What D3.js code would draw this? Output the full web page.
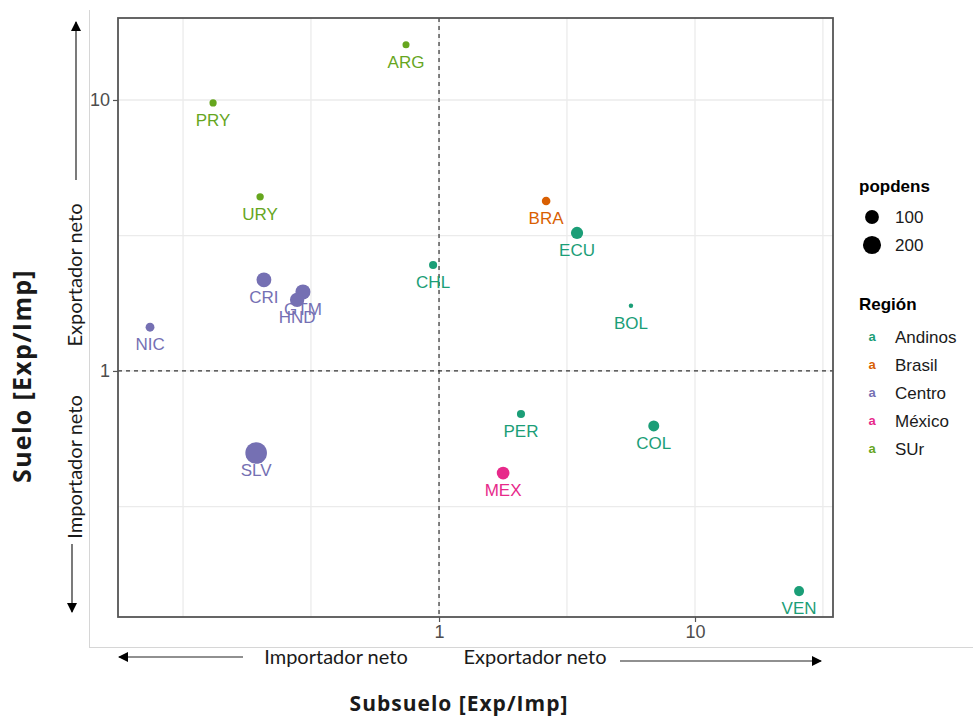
<!DOCTYPE html>
<html>
<head>
<meta charset="utf-8">
<script src="https://cdn.jsdelivr.net/npm/d3@7"></script>
<style>
  html, body { margin: 0; padding: 0; background: #fff; }
  svg { display: block; }
</style>
</head>
<body>
<svg id="chart" width="973" height="716"></svg>
<script>
// Trade balance ratios (exports / imports) by country
const countries = ["ARG", "PRY", "URY", "BRA", "ECU", "CHL", "CRI", "GTM", "HND", "NIC", "BOL", "PER", "COL", "MEX", "SLV", "VEN"];
const region    = ["SUr", "SUr", "SUr", "Brasil", "Andinos", "Andinos", "Centro", "Centro", "Centro", "Centro", "Andinos", "Andinos", "Andinos", "México", "Centro", "Andinos"];
const subsuelo  = [0.743, 0.131, 0.200, 2.62, 3.46, 0.948, 0.207, 0.294, 0.279, 0.0743, 5.62, 2.09, 6.90, 1.78, 0.193, 25.5];
const suelo     = [16.0, 9.75, 4.39, 4.24, 3.23, 2.46, 2.17, 1.957, 1.83, 1.45, 1.74, 0.694, 0.627, 0.42, 0.498, 0.154];
const popdens   = [17, 18, 19, 28, 72, 24, 120, 125, 110, 30, 10, 24, 54, 80, 310, 42];

const regions = ["Andinos", "Brasil", "Centro", "México", "SUr"];
const regionColors = ["#1B9E77", "#D95F02", "#7570B3", "#E7298A", "#66A61E"];
const xBreaks = [1, 10];
const yBreaks = [1, 10];
const xGrid = [0.1, 0.316, 1, 3.16, 10, 31.6];
const yGrid = [0.316, 1, 3.16, 10];
const sizeBreaks = [100, 200];

const svg = d3.select("#chart");
const panel = { left: 118, right: 833, top: 18, bottom: 617 };

const x = d3.scaleLog().domain([0.0557, 34.6]).range([panel.left, panel.right]);
const y = d3.scaleLog().domain([0.1236, 20.07]).range([panel.bottom, panel.top]);
const color = d3.scaleOrdinal().domain(regions).range(regionColors);
const pdMin = d3.min(popdens), pdMax = d3.max(popdens);
const sizeLin = d3.scaleLinear().domain([0, 1]).range([2.2, 10.8]);
const radius = v => sizeLin(Math.sqrt(Math.max(0, v - pdMin) / (pdMax - pdMin)));

const data = countries.map((c, i) => ({
  name: c, region: region[i], x: subsuelo[i], y: suelo[i], pd: popdens[i]
}));

// outer frame edges
svg.append("line").attr("x1", 89.5).attr("x2", 89.5).attr("y1", 10).attr("y2", 647.5)
  .attr("stroke", "#d6d6d6").attr("stroke-width", 1);
svg.append("line").attr("x1", 89).attr("x2", 973).attr("y1", 647.5).attr("y2", 647.5)
  .attr("stroke", "#d6d6d6").attr("stroke-width", 1);

// grid
const grid = svg.append("g");
grid.selectAll(".gx").data(xGrid.filter(v => x(v) > panel.left && x(v) < panel.right)).join("line")
  .attr("x1", d => x(d)).attr("x2", d => x(d))
  .attr("y1", panel.top).attr("y2", panel.bottom)
  .attr("stroke", "#ebebeb").attr("stroke-width", 1.3);
grid.selectAll(".gy").data(yGrid).join("line")
  .attr("y1", d => y(d)).attr("y2", d => y(d))
  .attr("x1", panel.left).attr("x2", panel.right)
  .attr("stroke", "#ebebeb").attr("stroke-width", 1.3);

// reference lines at ratio = 1
svg.append("line").attr("x1", x(1)).attr("x2", x(1)).attr("y1", panel.top).attr("y2", panel.bottom)
  .attr("stroke", "#333").attr("stroke-width", 1.2).attr("stroke-dasharray", "4,4");
svg.append("line").attr("y1", y(1)).attr("y2", y(1)).attr("x1", panel.left).attr("x2", panel.right)
  .attr("stroke", "#333").attr("stroke-width", 1.2).attr("stroke-dasharray", "4,4");

// axes
const xAxis = d3.axisBottom(x).tickValues(xBreaks).tickFormat(d3.format("d")).tickSize(5).tickPadding(3);
const yAxis = d3.axisLeft(y).tickValues(yBreaks).tickFormat(d3.format("d")).tickSize(5).tickPadding(3);
const gx = svg.append("g").attr("transform", `translate(0,${panel.bottom})`).call(xAxis);
const gy = svg.append("g").attr("transform", `translate(${panel.left},0)`).call(yAxis);
[gx, gy].forEach(g => {
  g.select(".domain").remove();
  g.selectAll(".tick line").attr("stroke", "#555").attr("stroke-width", 1.2);
  g.selectAll(".tick text").attr("fill", "#4d4d4d")
    .style("font-family", "'Liberation Sans', Arial, sans-serif").style("font-size", "18px");
});

// points and labels
const pts = svg.append("g");
pts.selectAll("circle").data(data).join("circle")
  .attr("cx", d => x(d.x)).attr("cy", d => y(d.y))
  .attr("r", d => radius(d.pd))
  .attr("fill", d => color(d.region));
pts.selectAll("text").data(data).join("text")
  .attr("x", d => x(d.x)).attr("y", d => y(d.y) + 23)
  .attr("text-anchor", "middle")
  .attr("fill", d => color(d.region))
  .style("font-family", "'Liberation Sans', Arial, sans-serif").style("font-size", "17px")
  .text(d => d.name);

// panel border
svg.append("rect").attr("x", panel.left).attr("y", panel.top)
  .attr("width", panel.right - panel.left).attr("height", panel.bottom - panel.top)
  .attr("fill", "none").attr("stroke", "#555").attr("stroke-width", 1.8);

// legends
const leg = svg.append("g").style("font-family", "'Liberation Sans', Arial, sans-serif");
leg.append("text").attr("x", 859).attr("y", 192).style("font-size", "17px").style("font-weight", "bold").text("popdens");
sizeBreaks.forEach((v, i) => {
  const cy = 217 + i * 28;
  leg.append("circle").attr("cx", 872).attr("cy", cy).attr("r", radius(v)).attr("fill", "#000");
  leg.append("text").attr("x", 895).attr("y", cy + 6).style("font-size", "17px").attr("fill", "#1a1a1a").text(v);
});
leg.append("text").attr("x", 859).attr("y", 310).style("font-size", "17px").style("font-weight", "bold").text("Región");
regions.forEach((r, i) => {
  const cy = 337 + i * 28;
  leg.append("text").attr("x", 872).attr("y", cy + 4).attr("text-anchor", "middle")
    .style("font-size", "13px").style("font-weight", "bold").attr("fill", color(r)).text("a");
  leg.append("text").attr("x", 895).attr("y", cy + 6).style("font-size", "17px").attr("fill", "#1a1a1a").text(r);
});

// arrows
const defs = svg.append("defs");
defs.append("marker").attr("id", "arr").attr("viewBox", "0 0 10 10").attr("refX", 9).attr("refY", 5)
  .attr("markerWidth", 10).attr("markerHeight", 10).attr("markerUnits", "userSpaceOnUse").attr("orient", "auto")
  .append("path").attr("d", "M0,0 L10,5 L0,10 Z").attr("fill", "#000");
const arrows = [
  [243, 657, 119, 657],
  [620, 661, 821, 661],
  [76, 180, 76, 22],
  [72, 544, 72, 612]
];
svg.selectAll(".arrow").data(arrows).join("line")
  .attr("x1", d => d[0]).attr("y1", d => d[1]).attr("x2", d => d[2]).attr("y2", d => d[3])
  .attr("stroke", "#222").attr("stroke-width", 1.2).attr("marker-end", "url(#arr)");

// side annotations
const ann = svg.append("g").style("font-family", "Lato, 'Open Sans', sans-serif").attr("fill", "#1a1a1a");
ann.append("text").attr("x", 336).attr("y", 664).attr("text-anchor", "middle").style("font-size", "20px").text("Importador neto");
ann.append("text").attr("x", 535).attr("y", 664).attr("text-anchor", "middle").style("font-size", "20px").text("Exportador neto");
ann.append("text").attr("transform", "translate(82,275) rotate(-90)").attr("text-anchor", "middle").style("font-size", "20px").text("Exportador neto");
ann.append("text").attr("transform", "translate(82,467) rotate(-90)").attr("text-anchor", "middle").style("font-size", "20px").text("Importador neto");
const titles = svg.append("g").style("font-family", "'Open Sans', Lato, sans-serif").style("font-weight", "bold").attr("fill", "#1a1a1a");
titles.append("text").attr("x", 459).attr("y", 711).attr("text-anchor", "middle")
  .style("font-size", "21px").style("letter-spacing", "1px").text("Subsuelo [Exp/Imp]");
titles.append("text").attr("transform", "translate(31,376) rotate(-90)").attr("text-anchor", "middle")
  .style("font-size", "25px").style("letter-spacing", "1.3px").text("Suelo [Exp/Imp]");
</script>
</body>
</html>
